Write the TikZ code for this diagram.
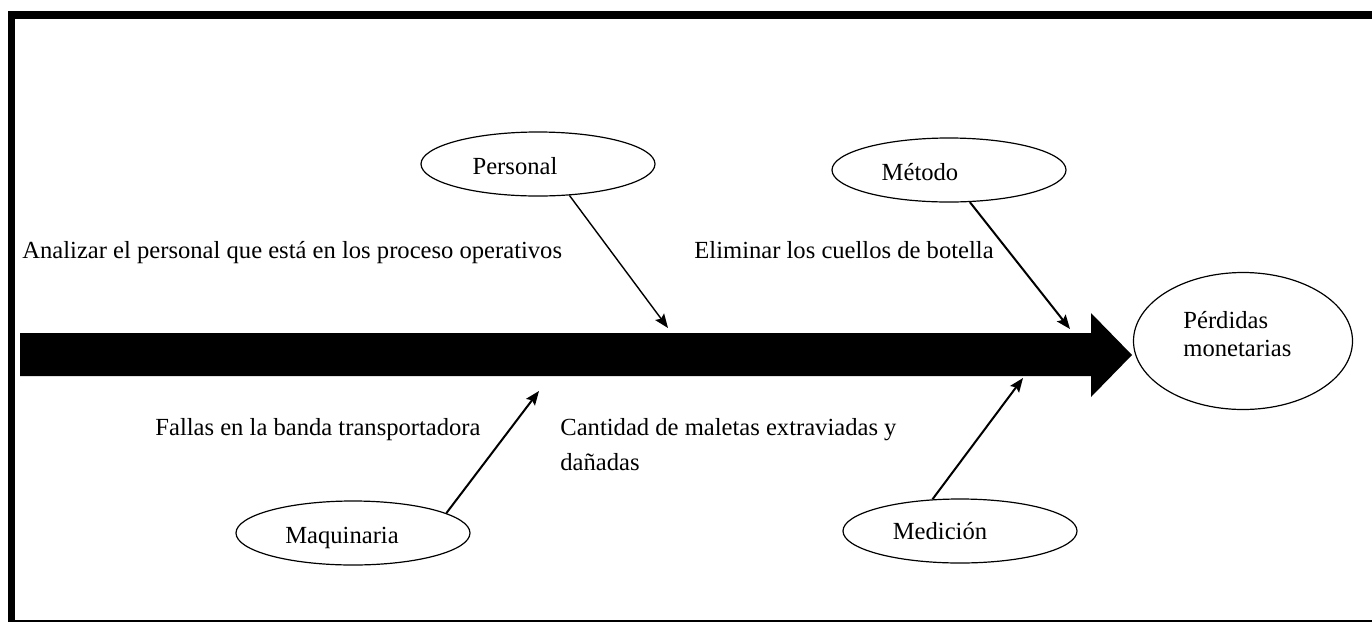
\documentclass[tikz,border=0pt]{standalone}
\usepackage{fontspec}
\setmainfont{Liberation Serif}
\usetikzlibrary{arrows.meta,shapes.geometric}

\tikzset{
    causa/.style={draw, ellipse, line width=0.6pt, minimum width=117pt, minimum height=32pt, inner sep=0pt},
    rotulo/.style={anchor=base, inner sep=0pt},
    texto/.style={anchor=base west, inner sep=0pt, align=left},
    flecha/.style={-{Stealth[length=7pt,width=5.5pt,inset=1.2pt]}, line width=1pt}
}

\begin{document}
\begin{tikzpicture}[x=0.5pt, y=-0.5pt, font=\fontsize{12.3}{14}\selectfont]
    \useasboundingbox (0,0) rectangle (1372,622);

    \draw[line width=4pt] (8,15) -- (1372,15);
    \draw[line width=3.5pt] (11.5,11) -- (11.5,622);
    \draw[line width=1pt] (8,621) -- (1372,621);

    \fill (20,333) -- (1091,333) -- (1091,313) -- (1132,355) -- (1091,397) -- (1091,376) -- (20,376) -- cycle;

    \node[causa] (personal) at (538,164) {};
    \node[causa] (metodo) at (949,170) {};
    \node[causa] (maquinaria) at (353,533) {};
    \node[causa] (medicion) at (960,531) {};
    \node[causa, minimum width=109.5pt, minimum height=68.5pt] (perdidas) at (1243,341) {};

    \node[rotulo] (personal_txt) at (515,174) {Personal};
    \node[rotulo] (metodo_txt) at (920,180) {Método};
    \node[rotulo] (maquinaria_txt) at (342,543) {Maquinaria};
    \node[rotulo] (medicion_txt) at (940,539) {Medición};
    \node[texto] (perdidas_txt) at (1183,356) {Pérdidas\\monetarias};

    \node[texto] (analizar) at (22,258) {Analizar el personal que está en los proceso operativos};
    \node[texto] (eliminar) at (694,258) {Eliminar los cuellos de botella};
    \node[texto] (fallas) at (155,435) {Fallas en la banda transportadora};
    \node[texto] (cantidad) at (560,470) {Cantidad de maletas extraviadas y\\[3.5pt]dañadas};

    \coordinate (p_fin) at (668,328);
    \coordinate (m_fin) at (1070,329);
    \coordinate (q_fin) at (539,391);
    \coordinate (d_fin) at (1023,378);

    \draw[flecha, line width=0.7pt] (personal.-45) -- (p_fin);
    \draw[flecha] (metodo.-57) -- (m_fin);
    \draw[flecha] (maquinaria.12) -- (q_fin);
    \draw[flecha] (medicion.131) -- (d_fin);
\end{tikzpicture}
\end{document}
